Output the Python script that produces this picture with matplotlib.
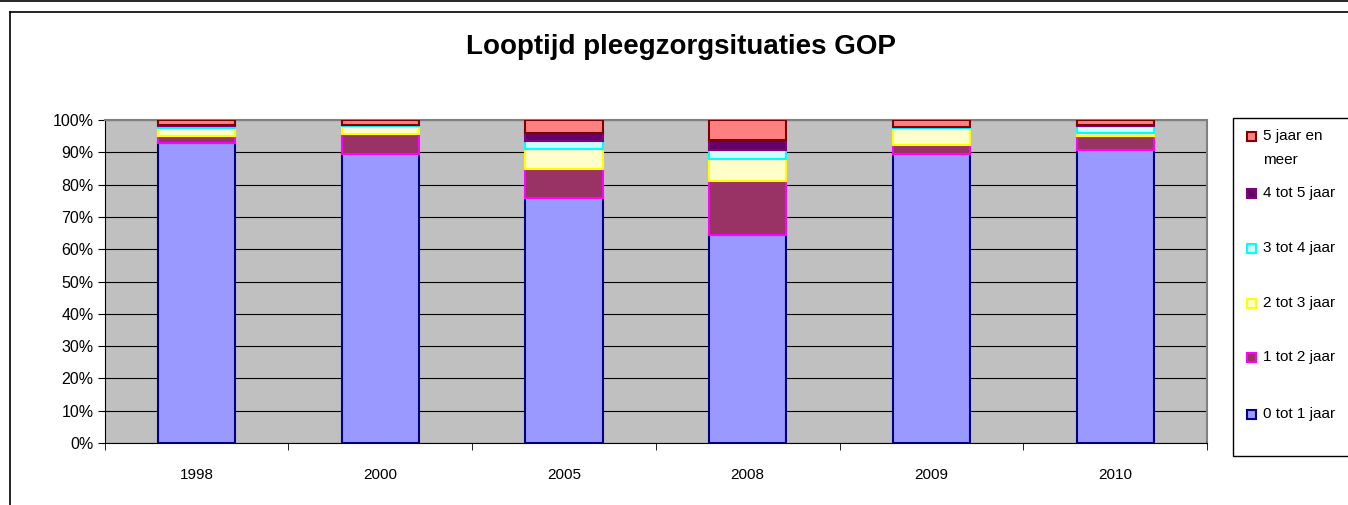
import numpy as np
import matplotlib.pyplot as plt
from matplotlib.patches import Rectangle
from matplotlib.lines import Line2D

plt.rcParams['font.family'] = ['Liberation Sans', 'DejaVu Sans']

# Data (percent per year)
years = ['1998', '2000', '2005', '2008', '2009', '2010']
series_labels = ['0 tot 1 jaar', '1 tot 2 jaar', '2 tot 3 jaar',
                 '3 tot 4 jaar', '4 tot 5 jaar', '5 jaar en\nmeer']
jaar_0_1 = [93.0, 89.5, 76.0, 64.4, 89.4, 90.7]
jaar_1_2 = [2.2, 6.2, 8.7, 16.8, 2.9, 4.3]
jaar_2_3 = [2.3, 2.5, 6.2, 6.6, 5.2, 1.0]
jaar_3_4 = [0.6, 0.3, 2.7, 2.9, 0.4, 2.0]
jaar_4_5 = [0.5, 0.0, 2.5, 3.1, 0.0, 0.3]
jaar_5_plus = [1.4, 1.5, 3.9, 6.2, 2.1, 1.7]

fills = ['#9999FF', '#993366', '#FFFFCC', '#CCFFFF', '#660066', '#FF8080']
edges = ['#000080', '#FF00FF', '#FFFF00', '#00FFFF', '#800080', '#800000']

data = [jaar_0_1, jaar_1_2, jaar_2_3, jaar_3_4, jaar_4_5, jaar_5_plus]

fig = plt.figure(figsize=(13.48, 5.05), dpi=100)
ax = fig.add_axes([104.7 / 1348, 1 - 443 / 505, (1207 - 104.7) / 1348, 323 / 505])
ax.set_facecolor('#C0C0C0')

x = np.arange(len(years))
bottom = np.zeros(len(years))
for vals, fc, ec in zip(data, fills, edges):
    vals = np.array(vals)
    ax.bar(x, vals, 0.42, bottom=bottom, color=fc, edgecolor=ec, linewidth=1.5, zorder=3)
    bottom += vals

ax.set_xlim(-0.5, len(years) - 0.5)
ax.set_ylim(0, 100)
ax.set_yticks(np.arange(0, 101, 10))
ax.set_yticklabels([f'{v}%' for v in range(0, 101, 10)], fontsize=11.5)
ax.yaxis.grid(True, color='black', linewidth=0.8, zorder=1)
ax.set_axisbelow(True)
ax.set_xticks(x)
ax.set_xticklabels(years, fontsize=11)
ax.set_xticks(np.arange(-0.5, len(years), 1), minor=True)
ax.tick_params(axis='x', which='major', length=0, pad=18)
ax.tick_params(axis='x', which='minor', length=5, color='black')
ax.tick_params(axis='y', length=5, pad=3)

for side in ['top', 'right']:
    ax.spines[side].set_color('#808080')
    ax.spines[side].set_linewidth(1.5)
ax.spines['left'].set_color('black')
ax.spines['bottom'].set_color('black')

fig.text(681 / 1348, 1 - 47 / 505, 'Looptijd pleegzorgsituaties GOP',
         ha='center', va='center', fontsize=20, fontweight='bold')

# chart frame
fig.add_artist(Line2D([10 / 1348, 10 / 1348], [0, 1 - 12 / 505], color='black', lw=1.2))
fig.add_artist(Line2D([10 / 1348, 1], [1 - 12 / 505, 1 - 12 / 505], color='black', lw=1.2))
fig.add_artist(Line2D([0, 1], [1 - 0.5 / 505, 1 - 0.5 / 505], color='black', lw=1.2))

# legend box
lx0, ly0, ly1 = 1233, 118, 456
fig.add_artist(Rectangle((lx0 / 1348, 1 - ly1 / 505), (1348 - lx0 + 5) / 1348, (ly1 - ly0) / 505,
                         transform=fig.transFigure, facecolor='white', edgecolor='black', lw=1.0))
entry_y = [414, 357, 303, 248, 193, 136]
for lab, fc, ec, yy in zip(series_labels, fills, edges, entry_y):
    fig.add_artist(Rectangle((1247 / 1348, 1 - (yy + 4.5) / 505), 9 / 1348, 9 / 505,
                             transform=fig.transFigure, facecolor=fc, edgecolor=ec, lw=1.5))
    fig.text(1263 / 1348, 1 - (yy - 7) / 505, lab, ha='left', va='top',
             fontsize=11, linespacing=1.9)

fig.savefig('out.png', dpi=100)
